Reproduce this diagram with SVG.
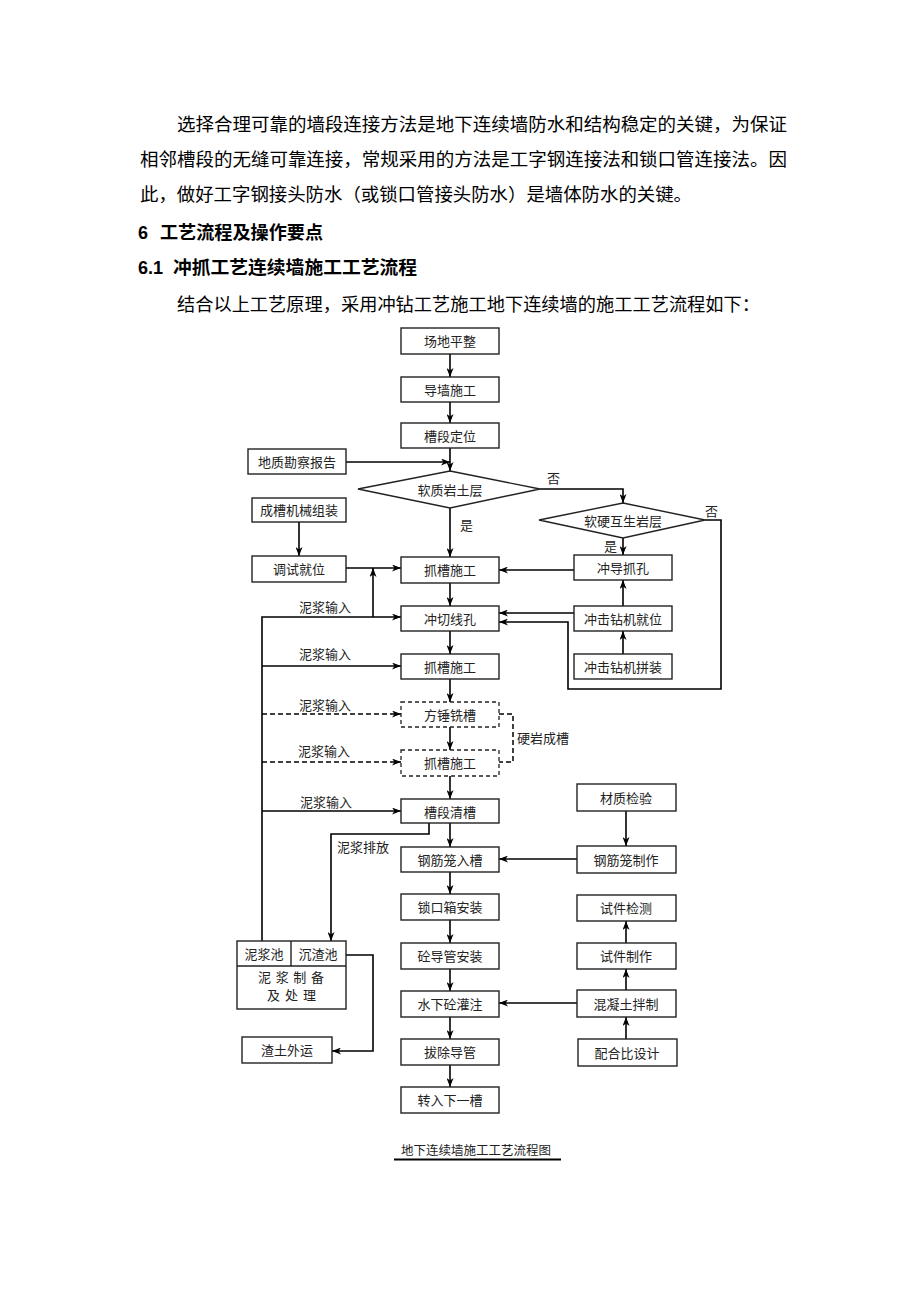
<svg xmlns="http://www.w3.org/2000/svg" width="920" height="1302" viewBox="0 0 920 1302">
<style>
.p{font-family:"Liberation Serif","Noto Sans CJK SC",serif;font-size:18px;fill:#000;dominant-baseline:central}
.h{font-family:"Liberation Sans","Noto Sans CJK SC",sans-serif;font-size:18px;font-weight:bold;fill:#000;dominant-baseline:central}
.t{font-family:"Liberation Serif","Noto Sans CJK SC",serif;font-size:13px;fill:#222;text-anchor:middle;dominant-baseline:central}
.l{font-family:"Liberation Serif","Noto Sans CJK SC",serif;font-size:13px;fill:#222;dominant-baseline:central}
.b{fill:#fff;stroke:#222;stroke-width:1.4}
.db{fill:#fff;stroke:#222;stroke-width:1.3;stroke-dasharray:4 3}
.c{fill:none;stroke:#000;stroke-width:1.6}
.dc{fill:none;stroke:#000;stroke-width:1.5;stroke-dasharray:5 3}
</style>
<defs>
<marker id="a" markerWidth="9" markerHeight="7" refX="9" refY="3.5" orient="auto" markerUnits="userSpaceOnUse"><path d="M0,0 L9,3.5 L0,7 L2.5,3.5 z" fill="#000"/></marker>
</defs>
<rect width="920" height="1302" fill="#fff"/>
<g id="paragraph">
<text class="p" x="177" y="125" textLength="610" lengthAdjust="spacingAndGlyphs">选择合理可靠的墙段连接方法是地下连续墙防水和结构稳定的关键，为保证</text>
<text class="p" x="140" y="160" textLength="647" lengthAdjust="spacingAndGlyphs">相邻槽段的无缝可靠连接，常规采用的方法是工字钢连接法和锁口管连接法。因</text>
<text class="p" x="140" y="195" textLength="552" lengthAdjust="spacingAndGlyphs">此，做好工字钢接头防水（或锁口管接头防水）是墙体防水的关键。</text>
<text class="h" x="138" y="233">6</text>
<text class="h" x="160" y="233" textLength="163" lengthAdjust="spacingAndGlyphs">工艺流程及操作要点</text>
<text class="h" x="138" y="268">6.1</text>
<text class="h" x="173" y="268" textLength="244" lengthAdjust="spacingAndGlyphs">冲抓工艺连续墙施工工艺流程</text>
<text class="p" x="177" y="305" textLength="583" lengthAdjust="spacingAndGlyphs">结合以上工艺原理，采用冲钻工艺施工地下连续墙的施工工艺流程如下：</text>
</g>
<g id="connectors">
<path class="c" d="M450,354 V377" marker-end="url(#a)"/>
<path class="c" d="M450,402 V423" marker-end="url(#a)"/>
<path class="c" d="M450,448 V471" marker-end="url(#a)"/>
<path class="c" d="M346,462 H450" marker-end="url(#a)"/>
<path class="c" d="M450,508 V557" marker-end="url(#a)"/>
<path class="c" d="M450,583 V606" marker-end="url(#a)"/>
<path class="c" d="M450,631 V654" marker-end="url(#a)"/>
<path class="c" d="M450,679 V702" marker-end="url(#a)"/>
<path class="c" d="M450,727 V750" marker-end="url(#a)"/>
<path class="c" d="M450,776 V799" marker-end="url(#a)"/>
<path class="c" d="M450,823 V847" marker-end="url(#a)"/>
<path class="c" d="M450,872 V894" marker-end="url(#a)"/>
<path class="c" d="M450,920 V943" marker-end="url(#a)"/>
<path class="c" d="M450,969 V991" marker-end="url(#a)"/>
<path class="c" d="M450,1017 V1039" marker-end="url(#a)"/>
<path class="c" d="M450,1065 V1087" marker-end="url(#a)"/>
<path class="c" d="M299,522 V556" marker-end="url(#a)"/>
<path class="c" d="M346,568 H401" marker-end="url(#a)"/>
<path class="c" d="M262,941 V617 H401" marker-end="url(#a)"/>
<path class="c" d="M373,617 V568" marker-end="url(#a)"/>
<path class="c" d="M262,666 H401" marker-end="url(#a)"/>
<path class="dc" d="M262,714 H401" marker-end="url(#a)"/>
<path class="dc" d="M262,762 H401" marker-end="url(#a)"/>
<path class="c" d="M262,811 H401" marker-end="url(#a)"/>
<path class="c" d="M429,823 V834 H331 V941" marker-end="url(#a)"/>
<path class="c" d="M346,955 H373 V1051 H332" marker-end="url(#a)"/>
<path class="c" d="M540,489 H623 V503" marker-end="url(#a)"/>
<path class="c" d="M623,538 V555" marker-end="url(#a)"/>
<path class="c" d="M705,520 H721 V689 H568 V622 H499" marker-end="url(#a)"/>
<path class="c" d="M574,570 H499" marker-end="url(#a)"/>
<path class="c" d="M574,613 H499" marker-end="url(#a)"/>
<path class="c" d="M623,654 V631" marker-end="url(#a)"/>
<path class="c" d="M623,606 V580" marker-end="url(#a)"/>
<path class="c" d="M626,811 V846" marker-end="url(#a)"/>
<path class="c" d="M577,859 H499" marker-end="url(#a)"/>
<path class="c" d="M626,1039 V1017" marker-end="url(#a)"/>
<path class="c" d="M626,990 V969" marker-end="url(#a)"/>
<path class="c" d="M626,943 V921" marker-end="url(#a)"/>
<path class="c" d="M577,1003 H499" marker-end="url(#a)"/>
<path class="dc" d="M499,714 H513 V762 H499"/>
<text class="l" x="460" y="525">是</text>
<text class="l" x="547" y="478">否</text>
<text class="l" x="705" y="511">否</text>
<text class="l" x="604" y="546">是</text>
<text class="l" x="299" y="607">泥浆输入</text>
<text class="l" x="299" y="654">泥浆输入</text>
<text class="l" x="299" y="705">泥浆输入</text>
<text class="l" x="298" y="751">泥浆输入</text>
<text class="l" x="300" y="802">泥浆输入</text>
<text class="l" x="337" y="847">泥浆排放</text>
<text class="l" x="517" y="738">硬岩成槽</text>
</g>
<g id="n1"><rect class="b" x="401" y="328" width="98" height="26"/><text class="t" x="450" y="341">场地平整</text></g>
<g id="n2"><rect class="b" x="401" y="377" width="98" height="25"/><text class="t" x="450" y="390">导墙施工</text></g>
<g id="n3"><rect class="b" x="401" y="423" width="98" height="25"/><text class="t" x="450" y="436">槽段定位</text></g>
<g id="n4"><rect class="b" x="248" y="449" width="98" height="25"/><text class="t" x="297" y="462">地质勘察报告</text></g>
<g id="d1"><polygon class="b" points="450,471 540,489 450,508 358,489"/><text class="t" x="450" y="490">软质岩土层</text></g>
<g id="d2"><polygon class="b" points="623,503 705,520 623,538 539,520"/><text class="t" x="623" y="521">软硬互生岩层</text></g>
<g id="n5"><rect class="b" x="252" y="498" width="94" height="24"/><text class="t" x="299" y="510">成槽机械组装</text></g>
<g id="n6"><rect class="b" x="252" y="556" width="94" height="26"/><text class="t" x="299" y="569">调试就位</text></g>
<g id="n7"><rect class="b" x="401" y="557" width="98" height="26"/><text class="t" x="450" y="570">抓槽施工</text></g>
<g id="n8"><rect class="b" x="574" y="555" width="98" height="25"/><text class="t" x="623" y="568">冲导抓孔</text></g>
<g id="n9"><rect class="b" x="401" y="606" width="98" height="25"/><text class="t" x="450" y="619">冲切线孔</text></g>
<g id="n10"><rect class="b" x="574" y="606" width="98" height="25"/><text class="t" x="623" y="619">冲击钻机就位</text></g>
<g id="n11"><rect class="b" x="574" y="654" width="98" height="25"/><text class="t" x="623" y="667">冲击钻机拼装</text></g>
<g id="n12"><rect class="b" x="401" y="654" width="98" height="25"/><text class="t" x="450" y="667">抓槽施工</text></g>
<g id="n13"><rect class="db" x="401" y="702" width="98" height="25"/><text class="t" x="450" y="715">方锤铣槽</text></g>
<g id="n14"><rect class="db" x="401" y="750" width="98" height="26"/><text class="t" x="450" y="763">抓槽施工</text></g>
<g id="n15"><rect class="b" x="401" y="799" width="98" height="24"/><text class="t" x="450" y="812">槽段清槽</text></g>
<g id="n16"><rect class="b" x="401" y="847" width="98" height="25"/><text class="t" x="450" y="860">钢筋笼入槽</text></g>
<g id="n17"><rect class="b" x="401" y="894" width="98" height="26"/><text class="t" x="450" y="907">锁口箱安装</text></g>
<g id="n18"><rect class="b" x="401" y="943" width="98" height="26"/><text class="t" x="450" y="956">砼导管安装</text></g>
<g id="n19"><rect class="b" x="401" y="991" width="98" height="26"/><text class="t" x="450" y="1004">水下砼灌注</text></g>
<g id="n20"><rect class="b" x="401" y="1039" width="98" height="26"/><text class="t" x="450" y="1052">拔除导管</text></g>
<g id="n21"><rect class="b" x="401" y="1087" width="98" height="26"/><text class="t" x="450" y="1100">转入下一槽</text></g>
<g id="n22"><rect class="b" x="577" y="784" width="99" height="27"/><text class="t" x="626" y="798">材质检验</text></g>
<g id="n23"><rect class="b" x="577" y="846" width="99" height="27"/><text class="t" x="626" y="860">钢筋笼制作</text></g>
<g id="n24"><rect class="b" x="577" y="895" width="99" height="26"/><text class="t" x="626" y="908">试件检测</text></g>
<g id="n25"><rect class="b" x="577" y="943" width="99" height="26"/><text class="t" x="626" y="956">试件制作</text></g>
<g id="n26"><rect class="b" x="577" y="990" width="99" height="27"/><text class="t" x="626" y="1004">混凝土拌制</text></g>
<g id="n27"><rect class="b" x="578" y="1039" width="99" height="27"/><text class="t" x="627" y="1053">配合比设计</text></g>
<g id="n28"><rect class="b" x="237" y="941" width="109" height="68"/><path class="c" d="M237,966 H346 M291,941 V966" style="stroke:#222;stroke-width:1.4"/><text class="t" x="264" y="954">泥浆池</text><text class="t" x="318" y="954">沉渣池</text><text class="t" x="258" y="977" style="text-anchor:start" textLength="66" lengthAdjust="spacing">泥浆制备</text><text class="t" x="267" y="995" style="text-anchor:start" textLength="49" lengthAdjust="spacing">及处理</text></g>
<g id="n29"><rect class="b" x="242" y="1037" width="90" height="26"/><text class="t" x="287" y="1050">渣土外运</text></g>
<g id="caption"><text class="t" x="476" y="1151" style="font-size:12.5px">地下连续墙施工工艺流程图</text><path d="M394,1159.5 H561" stroke="#000" stroke-width="2"/></g>
</svg>
